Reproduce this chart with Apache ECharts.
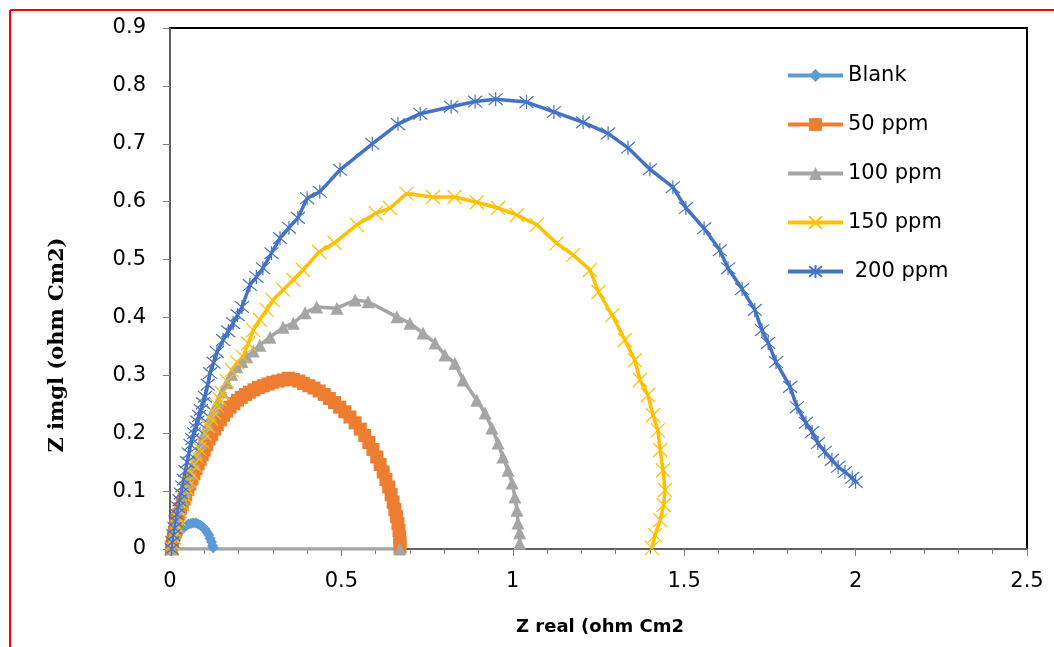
<!DOCTYPE html>
<html><head><meta charset="utf-8">
<script src="https://cdn.jsdelivr.net/npm/echarts@6/dist/echarts.min.js"></script>
<style>html,body{margin:0;padding:0;background:#fff}#c{width:1054px;height:647px}</style>
</head><body><div id="c"></div>
<script>
const seriesNames = ['Blank', '50 ppm', '100 ppm', '150 ppm', ' 200 ppm'];
const xTicks = ['0', '0.5', '1', '1.5', '2', '2.5'];
const yTicks = ['0', '0.1', '0.2', '0.3', '0.4', '0.5', '0.6', '0.7', '0.8', '0.9'];

const blank = [[0.004,0.001],[0.007,0.006],[0.011,0.012],[0.016,0.018],[0.021,0.023],[0.027,0.029],[0.033,0.033],[0.04,0.037],[0.047,0.04],[0.054,0.043],[0.061,0.044],[0.068,0.045],[0.075,0.045],[0.082,0.043],[0.089,0.041],[0.096,0.038],[0.102,0.034],[0.108,0.029],[0.113,0.024],[0.117,0.018],[0.121,0.012],[0.124,0.006],[0.126,0.002]];

const ppm50 = [[0.004,0.003],[0.007,0.012],[0.01,0.02],[0.013,0.028],[0.017,0.04],[0.021,0.05],[0.026,0.06],[0.031,0.07],[0.036,0.078],[0.041,0.086],[0.046,0.094],[0.052,0.103],[0.058,0.112],[0.064,0.121],[0.07,0.13],[0.076,0.139],[0.082,0.147],[0.088,0.155],[0.094,0.163],[0.1,0.171],[0.107,0.18],[0.114,0.19],[0.122,0.198],[0.13,0.207],[0.138,0.215],[0.147,0.223],[0.156,0.231],[0.165,0.238],[0.175,0.245],[0.186,0.251],[0.197,0.257],[0.208,0.262],[0.22,0.267],[0.232,0.271],[0.245,0.275],[0.258,0.279],[0.272,0.282],[0.286,0.285],[0.3,0.288],[0.315,0.29],[0.33,0.292],[0.345,0.295],[0.36,0.293],[0.375,0.29],[0.39,0.286],[0.405,0.282],[0.42,0.278],[0.435,0.273],[0.45,0.267],[0.465,0.26],[0.48,0.253],[0.495,0.245],[0.51,0.237],[0.525,0.228],[0.54,0.218],[0.555,0.207],[0.568,0.196],[0.58,0.184],[0.592,0.172],[0.603,0.159],[0.613,0.146],[0.622,0.133],[0.63,0.12],[0.638,0.107],[0.645,0.094],[0.651,0.081],[0.656,0.068],[0.661,0.056],[0.665,0.044],[0.668,0.032],[0.67,0.021],[0.671,0.011],[0.671,0.003]];

const ppm100 = [[0.67,0],[0.005,0],[0.008,0.012],[0.013,0.026],[0.018,0.04],[0.024,0.055],[0.03,0.07],[0.037,0.085],[0.045,0.1],[0.052,0.115],[0.06,0.13],[0.07,0.148],[0.08,0.165],[0.09,0.183],[0.1,0.2],[0.11,0.215],[0.12,0.23],[0.13,0.243],[0.14,0.255],[0.153,0.271],[0.166,0.287],[0.18,0.302],[0.195,0.315],[0.21,0.324],[0.224,0.332],[0.243,0.342],[0.262,0.352],[0.292,0.366],[0.33,0.383],[0.36,0.39],[0.394,0.408],[0.428,0.418],[0.487,0.416],[0.54,0.43],[0.578,0.427],[0.662,0.401],[0.70,0.39],[0.738,0.373],[0.773,0.356],[0.802,0.335],[0.831,0.321],[0.855,0.292],[0.895,0.257],[0.919,0.235],[0.939,0.209],[0.957,0.183],[0.971,0.159],[0.986,0.136],[0.998,0.114],[1.006,0.09],[1.012,0.067],[1.015,0.045],[1.02,0.028],[1.02,0.01]];

const ppm150 = [[0.005,0],[0.008,0.01],[0.012,0.02],[0.016,0.03],[0.02,0.04],[0.025,0.052],[0.03,0.065],[0.036,0.078],[0.042,0.092],[0.048,0.105],[0.055,0.118],[0.062,0.132],[0.07,0.146],[0.078,0.16],[0.086,0.173],[0.094,0.186],[0.102,0.199],[0.111,0.212],[0.12,0.225],[0.128,0.236],[0.137,0.248],[0.145,0.259],[0.152,0.269],[0.166,0.29],[0.18,0.309],[0.196,0.322],[0.213,0.332],[0.228,0.355],[0.243,0.378],[0.262,0.396],[0.282,0.413],[0.30,0.43],[0.33,0.448],[0.36,0.465],[0.388,0.482],[0.435,0.513],[0.48,0.529],[0.545,0.56],[0.60,0.58],[0.642,0.589],[0.69,0.614],[0.767,0.608],[0.83,0.608],[0.895,0.599],[0.957,0.589],[1.012,0.577],[1.07,0.56],[1.128,0.528],[1.176,0.508],[1.225,0.482],[1.25,0.444],[1.29,0.404],[1.327,0.361],[1.356,0.326],[1.371,0.292],[1.394,0.266],[1.409,0.231],[1.423,0.205],[1.43,0.171],[1.438,0.136],[1.444,0.102],[1.44,0.076],[1.43,0.05],[1.415,0.024],[1.406,0.002]];

const ppm200 = [[0.005,0],[0.007,0.012],[0.01,0.024],[0.013,0.036],[0.016,0.048],[0.02,0.06],[0.024,0.072],[0.028,0.084],[0.032,0.096],[0.036,0.108],[0.04,0.12],[0.045,0.135],[0.05,0.15],[0.055,0.165],[0.06,0.18],[0.065,0.19],[0.07,0.2],[0.075,0.21],[0.08,0.22],[0.085,0.23],[0.09,0.24],[0.096,0.252],[0.102,0.263],[0.11,0.284],[0.117,0.304],[0.127,0.322],[0.137,0.34],[0.155,0.361],[0.17,0.376],[0.184,0.39],[0.197,0.404],[0.21,0.418],[0.233,0.456],[0.252,0.47],[0.271,0.485],[0.296,0.511],[0.321,0.537],[0.347,0.555],[0.373,0.572],[0.40,0.606],[0.437,0.617],[0.496,0.655],[0.59,0.70],[0.665,0.734],[0.73,0.752],[0.82,0.764],[0.89,0.773],[0.95,0.777],[1.04,0.772],[1.12,0.755],[1.205,0.737],[1.278,0.718],[1.336,0.693],[1.40,0.656],[1.467,0.625],[1.505,0.589],[1.558,0.554],[1.604,0.516],[1.628,0.485],[1.669,0.449],[1.706,0.413],[1.727,0.378],[1.745,0.356],[1.768,0.323],[1.809,0.28],[1.829,0.245],[1.855,0.218],[1.873,0.202],[1.89,0.183],[1.91,0.168],[1.931,0.154],[1.949,0.142],[1.969,0.133],[1.99,0.123],[2.0,0.116]];

const colors = ['#5B9BD5', '#ED7D31', '#A5A5A5', '#FFC000', '#4472C4'];
const datasets = [blank, ppm50, ppm100, ppm150, ppm200];
const symbols = ['diamond', 'rect', 'triangle', 'path://M-5,-5L5,5M-5,5L5,-5', 'path://M0,-6L0,6M-5,-5L5,5M-5,5L5,-5'];
const symbolSizes = [11, 13, 13, 14, 14];
const lineWidths = [3.5, 3.5, 3.5, 3.5, 3.5];

const chart = echarts.init(document.getElementById('c'), null, {renderer: 'canvas'});
const FONT = '"DejaVu Sans", sans-serif';

const series = datasets.map((d, i) => {
  const isPath = i >= 3;
  return {
    name: seriesNames[i],
    type: 'line',
    data: d,
    symbol: symbols[i],
    symbolSize: symbolSizes[i],
    showAllSymbol: true,
    smooth: false,
    lineStyle: {color: colors[i], width: lineWidths[i]},
    itemStyle: isPath ? {color: colors[i], borderColor: colors[i], borderWidth: 1.2}
                      : {color: colors[i], borderWidth: 0},
    emphasis: {disabled: true},
    animation: false
  };
});

chart.setOption({
  animation: false,
  backgroundColor: '#fff',
  color: colors,
  grid: {left: 170, right: 27, top: 28, bottom: 98, show: true, borderColor: '#000', borderWidth: 2, backgroundColor: 'transparent'},
  legend: {
    orient: 'vertical', left: 781, top: 60, itemWidth: 55, itemHeight: 16, itemGap: 28,
    lineStyle: {width: 4},
    textStyle: {fontFamily: FONT, fontSize: 21, color: '#000'},
    data: seriesNames
  },
  xAxis: {
    type: 'value', min: 0, max: 2.5, interval: 0.5,
    axisLine: {show: true, onZero: false, lineStyle: {color: '#7f7f7f', width: 1.5}},
    axisTick: {show: true, length: 7, lineStyle: {color: '#7f7f7f'}},
    minorTick: {show: true, splitNumber: 5, length: 5, lineStyle: {color: '#7f7f7f'}},
    splitLine: {show: false},
    axisLabel: {margin: 22, fontFamily: FONT, fontSize: 21, color: '#000',
      formatter: (v) => xTicks[Math.round(v / 0.5)]}
  },
  yAxis: {
    type: 'value', min: 0, max: 0.9, interval: 0.1,
    axisLine: {show: true, onZero: false, lineStyle: {color: '#7f7f7f', width: 1.5}},
    axisTick: {show: true, length: 7, lineStyle: {color: '#7f7f7f'}},
    splitLine: {show: false},
    axisLabel: {margin: 24, fontFamily: FONT, fontSize: 21, color: '#000',
      formatter: (v) => yTicks[Math.round(v / 0.1)]}
  },
  graphic: [
    {type: 'line', shape: {x1: 10, y1: 10, x2: 1054, y2: 10}, style: {stroke: '#ff0000', lineWidth: 2}, silent: true},
    {type: 'line', shape: {x1: 10, y1: 10, x2: 10, y2: 647}, style: {stroke: '#ff0000', lineWidth: 2}, silent: true},
    {type: 'text', x: 600, y: 627, style: {text: 'Z real (ohm Cm2', font: 'bold 18px "DejaVu Sans", sans-serif', fill: '#000', textAlign: 'center', textVerticalAlign: 'middle'}, silent: true},
    {type: 'text', x: 58, y: 345, rotation: Math.PI / 2, style: {text: 'Z imgl (ohm Cm2)', font: 'bold 21px "DejaVu Serif", serif', fill: '#000', textAlign: 'center', textVerticalAlign: 'middle'}, silent: true}
  ],
  series: series
});
</script>
</body></html>
